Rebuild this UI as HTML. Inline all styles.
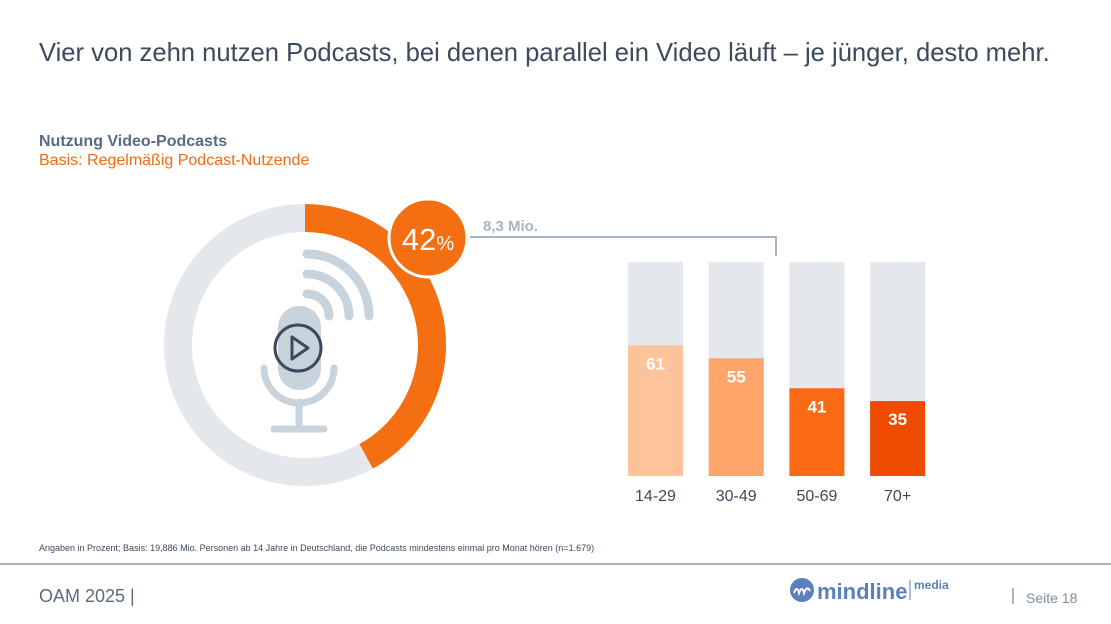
<!DOCTYPE html>
<html><head><meta charset="utf-8"><style>
body{margin:0;width:1111px;height:624px;background:#fff;font-family:"Liberation Sans",sans-serif;overflow:hidden;position:relative}
.a{position:absolute;white-space:nowrap}
</style></head><body>
<div class="a" style="left:39px;top:39px;font-size:25.6px;color:#3c4a5c">Vier von zehn nutzen Podcasts, bei denen parallel ein Video läuft – je jünger, desto mehr.</div>
<div class="a" style="left:39px;top:133px;font-size:16px;font-weight:bold;color:#5a6a80">Nutzung Video-Podcasts</div>
<div class="a" style="left:39px;top:152px;font-size:16px;color:#f26a12">Basis: Regelmäßig Podcast-Nutzende</div>
<svg class="a" style="left:0;top:0" width="1111" height="624">
<g id="donut"></g>
<g fill="none" stroke="#c9d3dc" stroke-linecap="round">
<rect x="278" y="306" width="43" height="84" rx="21" fill="#c9d3dc" stroke="none"/>
<path d="M264 368 a35 35 0 0 0 70 0" stroke-width="7"/>
<line x1="299" y1="402" x2="299" y2="428" stroke-width="7"/>
<line x1="274" y1="429" x2="324" y2="429" stroke-width="7"/>
<path d="M307 294 a22 22 0 0 1 22 22" stroke-width="9"/>
<path d="M307 274 a42 42 0 0 1 42 42" stroke-width="9"/>
<path d="M307 254 a62 62 0 0 1 62 62" stroke-width="9"/>
<circle cx="298" cy="348" r="23" stroke="#3c4a5c" stroke-width="3"/>
<path d="M292 337 L308 348 L292 359 Z" stroke="#3c4a5c" stroke-width="3" stroke-linejoin="round"/>
</g>
<circle cx="428" cy="238" r="39" fill="#f46e12" stroke="#fff" stroke-width="3"/>
<text x="428" y="250" text-anchor="middle" fill="#fff" font-size="31">42<tspan font-size="20">%</tspan></text>
<text x="483" y="231" fill="#a9b5c4" font-size="15" font-weight="bold">8,3 Mio.</text>
<path d="M470 237 H776 V256" fill="none" stroke="#8a9bb0" stroke-width="1.5"/>
<g id="bars"></g>
<line x1="0" y1="564" x2="1111" y2="564" stroke="#8a9bb0" stroke-width="1.5"/>
<circle cx="802" cy="590" r="12" fill="#5b7fbf"/>
<path d="M794 593 q3-8 5 0 q3-8 5 0 q3-8 6 -2" stroke="#fff" stroke-width="2" fill="none"/>
<text x="817" y="599" fill="#5b7fbf" font-size="22" font-weight="bold">mindline</text>
<line x1="910" y1="580" x2="910" y2="600" stroke="#5b7fbf" stroke-width="1"/>
<text x="914" y="589" fill="#5b7fbf" font-size="12" font-weight="bold">media</text>
<line x1="1013" y1="588" x2="1013" y2="604" stroke="#8a9bb0" stroke-width="1.5"/>
</svg>
<div class="a" style="left:39px;top:543px;font-size:9px;color:#3c4a5c">Angaben in Prozent; Basis: 19,886 Mio. Personen ab 14 Jahre in Deutschland, die Podcasts mindestens einmal pro Monat hören (n=1.679)</div>
<div class="a" style="left:39px;top:586px;font-size:18px;color:#5a6a80">OAM 2025 |</div>
<div class="a" style="left:1026px;top:590px;font-size:14px;color:#7a8aa0">Seite 18</div>
<script>
const total=[42];
const categories=["14-29","30-49","50-69","70+"];
const values=[61,55,41,35];
const colors=["#ffc39c","#ffa56b","#fa6a14","#ee4b00"];
const NS="http://www.w3.org/2000/svg";
const cx=305,cy=345,r=127;
const d=document.getElementById('donut');
const bg=document.createElementNS(NS,'circle');
bg.setAttribute('cx',cx);bg.setAttribute('cy',cy);bg.setAttribute('r',r);
bg.setAttribute('fill','none');bg.setAttribute('stroke','#e4e7eb');bg.setAttribute('stroke-width',28);


d.appendChild(bg);
const ang=total[0]/100*2*Math.PI;
const ex=cx+r*Math.sin(ang),ey=cy-r*Math.cos(ang);
const arc=document.createElementNS(NS,'path');
arc.setAttribute('d',`M${cx} ${cy-r} A${r} ${r} 0 ${total[0]>50?1:0} 1 ${ex} ${ey}`);
arc.setAttribute('fill','none');arc.setAttribute('stroke','#f46e12');arc.setAttribute('stroke-width',28);


d.appendChild(arc);
const g=document.getElementById('bars');
const x0=628,step=80.7,bw=55,yb=476,h=214;
const y=v=>yb-v/100*h;
categories.forEach((c,i)=>{
 const x=x0+i*step;
 const t=document.createElementNS(NS,'rect');
 t.setAttribute('x',x);t.setAttribute('y',y(100));t.setAttribute('width',bw);t.setAttribute('height',h);t.setAttribute('fill','#e4e7eb');
 
 
 g.appendChild(t);
 const b=document.createElementNS(NS,'rect');
 b.setAttribute('x',x);b.setAttribute('y',y(values[i]));b.setAttribute('width',bw);b.setAttribute('height',yb-y(values[i]));b.setAttribute('fill',colors[i]);
 
 
 g.appendChild(b);
 const v=document.createElementNS(NS,'text');
 v.setAttribute('x',x+bw/2);v.setAttribute('y',y(values[i])+24);v.setAttribute('text-anchor','middle');v.setAttribute('fill','#fff');v.setAttribute('font-size','17');v.setAttribute('font-weight','bold');
 v.textContent=values[i];
 
 
 g.appendChild(v);
 const l=document.createElementNS(NS,'text');
 l.setAttribute('x',x+bw/2);l.setAttribute('y',501);l.setAttribute('text-anchor','middle');l.setAttribute('fill','#3c4a5c');l.setAttribute('font-size','16');
 l.textContent=c;
 
 
 g.appendChild(l);
});
</script>
</body></html>
